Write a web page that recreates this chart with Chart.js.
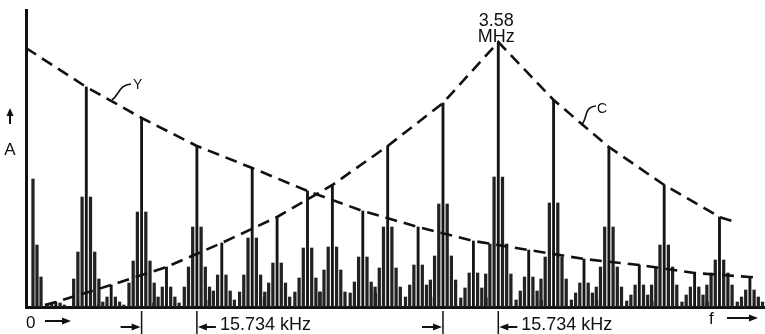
<!DOCTYPE html>
<html><head><meta charset="utf-8">
<script src="https://cdn.jsdelivr.net/npm/chart.js@4.4.1/dist/chart.umd.min.js"></script>
<style>html,body{margin:0;padding:0;background:#fff;}canvas{display:block}</style>
</head><body>
<canvas id="c" width="765" height="334"></canvas>
<script>
// x: frequency in multiples of the line frequency fH = 15.734 kHz ; y: relative amplitude A
const lumaHarmonics = [1, 2, 3, 4, 5, 6, 7, 8, 9, 10, 11, 12, 13];
const lumaPeaks     = [220, 189, 161, 139, 116, 96, 80, 66, 57, 48, 42, 34, 30];
const lumaSide1     = [110, 95, 80, 69, 59, 50, 42, 34, 30, 24, 22, 20, 17];
const lumaSide2     = [55, 46, 40, 32, 29, 25, 22, 19, 16, 14, 12, 12, 10];
const lumaSide3     = [28, 24, 20, 15, 15, 14, 10, 9, 7, 7, 6, 5, 5];
const dcBarPos      = [0.036, 0.108, 0.181];
const dcBarAmp      = [128, 62, 30];
const chromaHarmonics = [0.45, 1.45, 2.45, 3.45, 4.45, 5.45, 6.45, 7.45, 8.45, 9.45, 10.45, 11.45, 12.45];
const chromaPeaks     = [5, 22, 40, 64, 90, 122, 161, 204, 265, 207, 160, 122, 90];
const chromaSide1     = [4, 10, 20, 32, 44, 60, 80, 103, 130, 104, 80, 62, 47];
const chromaSide2     = [2, 5, 10, 16, 24, 37, 39, 51, 63, 50, 40, 40, 34];
const chromaSide3     = [0, 2, 4, 7, 10, 15, 20, 27, 33, 28, 20, 22, 22];
const lumaEnvStart = [-0.09, 259], lumaEnvEnd = [13.18, 29];
const chromaEnvStart = [0.25, 2], chromaEnvEnd = [12.73, 85];
const sidebandStep = 0.076;
const subcarrierLabel = ['3.58', 'MHz'];
const spacingLabel = '15.734 kHz';

// build data
const mainBars = [];
lumaHarmonics.forEach((x, i) => mainBars.push({x, y: lumaPeaks[i]}));
chromaHarmonics.forEach((x, i) => mainBars.push({x, y: chromaPeaks[i]}));
const sideBars = [];
dcBarPos.forEach((x, i) => sideBars.push({x, y: dcBarAmp[i]}));
function addCluster(center, levels) {
  levels.forEach((h, k) => {
    if (h > 0) {
      sideBars.push({x: center - (k + 1) * sidebandStep, y: h});
      sideBars.push({x: center + (k + 1) * sidebandStep, y: h});
    }
  });
}
lumaHarmonics.forEach((x, i) => addCluster(x, [lumaSide1[i], lumaSide2[i], lumaSide3[i]]));
chromaHarmonics.forEach((x, i) => addCluster(x, [chromaSide1[i], chromaSide2[i], chromaSide3[i]]));
const lumaEnv = [{x: lumaEnvStart[0], y: lumaEnvStart[1]}]
  .concat(lumaHarmonics.map((x, i) => ({x, y: lumaPeaks[i]})))
  .concat([{x: lumaEnvEnd[0], y: lumaEnvEnd[1]}]);
const chromaEnv = [{x: chromaEnvStart[0], y: chromaEnvStart[1]}]
  .concat(chromaHarmonics.map((x, i) => ({x, y: chromaPeaks[i]})))
  .concat([{x: chromaEnvEnd[0], y: chromaEnvEnd[1]}]);

const INK = '#111111';
const FONT = '"Liberation Sans", Arial, Helvetica, sans-serif';

function hArrow(ctx, x1, x2, y) {
  const dir = Math.sign(x2 - x1);
  ctx.lineWidth = 2;
  ctx.beginPath(); ctx.moveTo(x1, y); ctx.lineTo(x2 - dir * 5, y); ctx.stroke();
  ctx.beginPath(); ctx.moveTo(x2, y); ctx.lineTo(x2 - dir * 9, y - 3.5); ctx.lineTo(x2 - dir * 9, y + 3.5); ctx.closePath(); ctx.fill();
}
function vTick(ctx, x, y1, y2) {
  ctx.lineWidth = 1.5;
  ctx.beginPath(); ctx.moveTo(x, y1); ctx.lineTo(x, y2); ctx.stroke();
}

const annotations = {
  id: 'annotations',
  afterDraw(chart) {
    const ctx = chart.ctx, xs = chart.scales.x;
    ctx.save();
    ctx.fillStyle = INK; ctx.strokeStyle = INK;
    ctx.font = '18px ' + FONT;
    ctx.textAlign = 'center'; ctx.textBaseline = 'alphabetic';
    const peakX = xs.getPixelForValue(chromaHarmonics[8]) - 2;
    ctx.fillText(subcarrierLabel[0], peakX, 26);
    ctx.fillText(subcarrierLabel[1], peakX, 42);
    // axis label A with up arrow
    ctx.font = '17px ' + FONT;
    ctx.fillText('A', 10, 155);
    ctx.lineWidth = 2;
    ctx.beginPath(); ctx.moveTo(10, 124); ctx.lineTo(10, 114); ctx.stroke();
    ctx.beginPath(); ctx.moveTo(10, 108); ctx.lineTo(6.5, 116); ctx.lineTo(13.5, 116); ctx.closePath(); ctx.fill();
    // origin and f
    ctx.textAlign = 'left';
    ctx.fillText('0', 26, 328);
    hArrow(ctx, 45, 71, 321);
    ctx.fillText('f', 709, 324);
    hArrow(ctx, 727, 758, 318);
    // curve labels
    ctx.font = '14px ' + FONT;
    ctx.fillText('Y', 133, 89);
    ctx.fillText('C', 597, 113);
    ctx.lineWidth = 1.6;
    ctx.beginPath(); ctx.moveTo(112, 100); ctx.bezierCurveTo(119, 95, 119, 85, 131, 84); ctx.stroke();
    ctx.beginPath(); ctx.moveTo(581, 125); ctx.bezierCurveTo(588, 120, 583, 107, 596, 106); ctx.stroke();
    // spacing markers
    ctx.font = '18px ' + FONT;
    const pairs = [[lumaHarmonics[1], lumaHarmonics[2]], [chromaHarmonics[7], chromaHarmonics[8]]];
    pairs.forEach(([a, b]) => {
      const pa = xs.getPixelForValue(a), pb = xs.getPixelForValue(b);
      vTick(ctx, pa, 311, 334);
      vTick(ctx, pb, 311, 334);
      hArrow(ctx, pa - 21, pa - 1, 327);
      hArrow(ctx, pb + 19, pb + 1, 327);
      ctx.fillText(spacingLabel, pb + 23, 330);
    });
    ctx.restore();
  }
};

new Chart(document.getElementById('c'), {
  type: 'bar',
  data: {
    datasets: [
      {type: 'line', data: lumaEnv, borderColor: INK, borderWidth: 2.6, borderDash: [12, 7],
       pointRadius: 0, tension: 0, fill: false, order: 0},
      {type: 'line', data: chromaEnv, borderColor: INK, borderWidth: 2.6, borderDash: [12, 7],
       pointRadius: 0, tension: 0, fill: false, order: 0},
      {data: mainBars, backgroundColor: '#151515', barThickness: 2.2, stack: 's', order: 1},
      {data: sideBars, backgroundColor: '#222222', barThickness: 2.6, stack: 's', order: 2}
    ]
  },
  options: {
    responsive: false, animation: false, devicePixelRatio: 1,
    layout: {padding: {left: 26, top: 10, right: 0, bottom: 27}},
    plugins: {legend: {display: false}, tooltip: {enabled: false}},
    scales: {
      x: {type: 'linear', min: -0.0904, max: 13.273, offset: false,
          grid: {display: false, drawTicks: false}, ticks: {display: false},
          border: {display: true, color: INK, width: 3}},
      y: {type: 'linear', min: 0, max: 297, stacked: false,
          grid: {display: false, drawTicks: false}, ticks: {display: false},
          border: {display: true, color: INK, width: 3}}
    }
  },
  plugins: [annotations]
});
</script>
</body></html>
